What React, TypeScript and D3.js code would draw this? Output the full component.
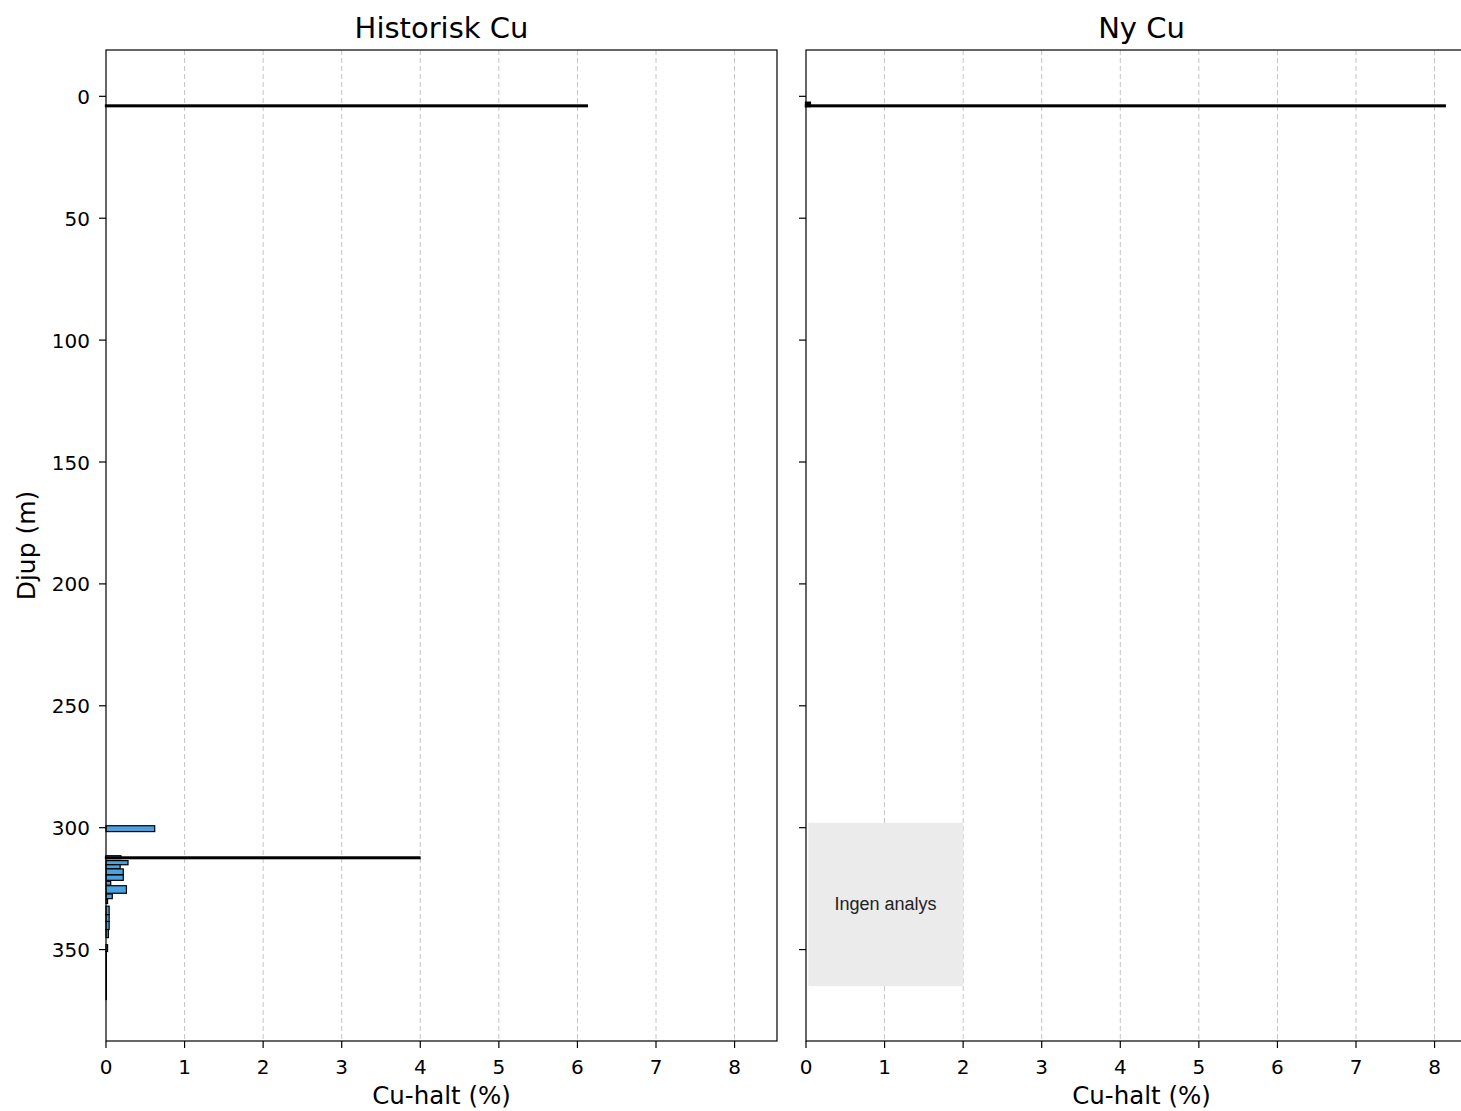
import React from "react";
import * as d3 from "d3";

// Historisk Cu: depth intervals (m) and Cu values (%)
const histFrom = [3.8, 299.2, 311.5, 313.5, 315.2, 316.9, 319.4, 322.0, 323.8, 327.2, 329.5, 332.2, 335.7, 338.5, 341.8, 348.0, 350.8];
const histTo = [4.1, 301.6, 312.7, 315.2, 316.8, 319.3, 321.6, 323.6, 326.9, 329.1, 331.1, 335.7, 338.5, 341.8, 345.1, 350.8, 370.5];
const histCu = [0.35, 0.62, 0.19, 0.28, 0.18, 0.22, 0.22, 0.06, 0.26, 0.08, 0.02, 0.04, 0.04, 0.04, 0.03, 0.02, 0.005];
// thin high-grade intervals (render as thick black lines)
const histThinFrom = [3.75, 312.2];
const histThinTo = [4.05, 312.5];
const histThinCu = [6.12, 3.99];

// Ny Cu
const nyFrom = [2.6, 3.75];
const nyTo = [4.0, 4.05];
const nyCu = [0.05, 8.13];
const noAnalysisFrom = 298;
const noAnalysisTo = 365;
const noAnalysisCu = 2.0;

const xTicks = [0, 1, 2, 3, 4, 5, 6, 7, 8];
const yTicks = [0, 50, 100, 150, 200, 250, 300, 350];
const titles = ["Historisk Cu", "Ny Cu"];

const W = 1461;
const H = 1111;
const top = 50;
const bottom = 1041;
const panelLefts = [106, 806];
const panelW = 671;
const font = "DejaVu Sans, sans-serif";

export default function App() {
  const y = d3.scaleLinear().domain([-19, 387.5]).range([top, bottom]);
  const panels = panelLefts.map((left, i) => {
    const x = d3.scaleLinear().domain([0, 8.54]).range([left, left + panelW]);
    const bars =
      i === 0
        ? histCu.map((v, j) => ({ from: histFrom[j], to: histTo[j], v }))
        : [];
    const thin =
      i === 0
        ? histThinCu.map((v, j) => ({ from: histThinFrom[j], to: histThinTo[j], v }))
        : nyCu.map((v, j) => ({ from: nyFrom[j], to: nyTo[j], v }));
    return (
      <g key={i}>
        <text x={left + panelW / 2} y={38} textAnchor="middle" fontSize={29} fontFamily={font} fill="#000">
          {titles[i]}
        </text>
        {xTicks.slice(1).map((t) => (
          <line key={t} x1={x(t)} x2={x(t)} y1={top} y2={bottom} stroke="#c4c4c4" strokeWidth={1} strokeDasharray="5,3" />
        ))}
        {i === 1 && (
          <g>
            <rect
              x={x(0.03)}
              width={x(noAnalysisCu) - x(0.03)}
              y={y(noAnalysisFrom)}
              height={y(noAnalysisTo) - y(noAnalysisFrom)}
              fill="#ebebeb"
            />
            <text
              x={x(noAnalysisCu / 2) + 1}
              y={y((noAnalysisFrom + noAnalysisTo) / 2) + 6}
              textAnchor="middle"
              fontSize={18}
              fontFamily="Liberation Sans, Arial, sans-serif"
              fill="#222"
            >
              Ingen analys
            </text>
          </g>
        )}
        {bars.map((b, j) => (
          <rect
            key={j}
            x={x(0)}
            width={x(b.v) - x(0)}
            y={y(b.from)}
            height={y(b.to) - y(b.from)}
            fill="#4aa3df"
            stroke="#000"
            strokeWidth={1.2}
          />
        ))}
        {thin.map((b, j) => (
          <rect
            key={j}
            x={x(0)}
            width={x(b.v) - x(0)}
            y={y(b.from)}
            height={y(b.to) - y(b.from)}
            fill="#000"
            stroke="#000"
            strokeWidth={2.3}
          />
        ))}
        <rect x={left} y={top} width={panelW} height={bottom - top} fill="none" stroke="#000" strokeWidth={1.2} />
        {xTicks.map((t) => (
          <g key={t}>
            <line x1={x(t)} x2={x(t)} y1={bottom} y2={bottom + 7} stroke="#000" strokeWidth={1.2} />
            <text x={x(t)} y={1074} textAnchor="middle" fontSize={20} fontFamily={font} fill="#000">
              {t}
            </text>
          </g>
        ))}
        {yTicks.map((t) => (
          <g key={t}>
            <line x1={left - 7} x2={left} y1={y(t)} y2={y(t)} stroke="#000" strokeWidth={1.2} />
            {i === 0 && (
              <text x={left - 16} y={y(t) + 7.5} textAnchor="end" fontSize={20} fontFamily={font} fill="#000">
                {t}
              </text>
            )}
          </g>
        ))}
        <text x={left + panelW / 2} y={1104} textAnchor="middle" fontSize={24.5} fontFamily={font} fill="#000">
          Cu-halt (%)
        </text>
      </g>
    );
  });

  return (
    <div style={{ position: "absolute", left: 0, top: 0, width: W, height: H, overflow: "hidden", background: "#fff" }}>
      <svg width={W} height={H} style={{ display: "block" }}>
        <rect width={W} height={H} fill="#fff" />
        {panels}
        <text
          transform={`translate(35,${(top + bottom) / 2}) rotate(-90)`}
          textAnchor="middle"
          fontSize={25}
          fontFamily={font}
          fill="#000"
        >
          Djup (m)
        </text>
      </svg>
    </div>
  );
}
